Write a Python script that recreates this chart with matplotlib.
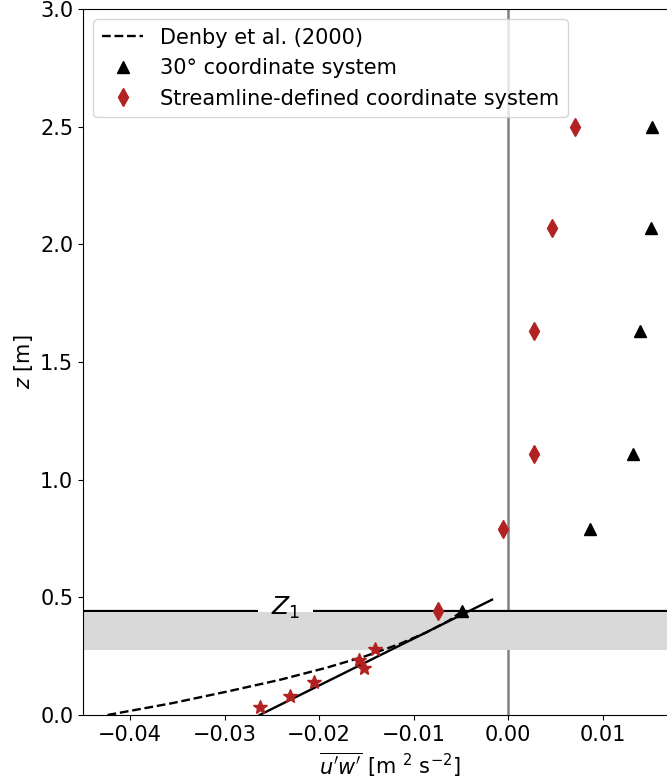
import matplotlib
matplotlib.use('Agg')
import matplotlib.pyplot as plt

# Data
z_levels = [0.44, 0.79, 1.11, 1.63, 2.07, 2.50]
uw_30deg = [-0.0049, 0.0087, 0.0132, 0.0140, 0.0151, 0.0152]
uw_streamline = [-0.0074, -0.0005, 0.0027, 0.0027, 0.0047, 0.0071]

z_stars = [0.035, 0.081, 0.140, 0.234, 0.198, 0.279]
uw_stars = [-0.0263, -0.0231, -0.0205, -0.0158, -0.0153, -0.0141]

z_denby = [0.0, 0.05, 0.10, 0.15, 0.20, 0.25, 0.30, 0.35, 0.40, 0.44]
uw_denby = [-0.0424, -0.0356, -0.0297, -0.0241, -0.0193, -0.0151, -0.0116, -0.0087, -0.0063, -0.0049]

z_fit = [0.0, 0.49]
uw_fit = [-0.0263, -0.0017]

z1 = 0.44
band = (0.275, 0.437)
z1_label_x = -0.0236
z1_gap = 0.0029  # half-width of the gap in the Z1 line around its label

fig = plt.figure(figsize=(6.67, 7.78), dpi=100)
ax = fig.add_axes([83 / 667, 63 / 778, 614 / 667, 706 / 778])

ax.axhspan(band[0], band[1], color='0.85', lw=0, zorder=1.5)
ax.axvline(0, color='0.5', lw=1.8, zorder=1)
ax.axhline(z1, color='k', lw=1.6, zorder=1)
ax.hlines(z1, z1_label_x - z1_gap, z1_label_x + z1_gap, color='white', lw=3, zorder=1.2)
ax.text(z1_label_x, z1 + 0.015, '$Z_1$', fontsize=18, ha='center', va='center', zorder=5)

ax.plot(uw_denby, z_denby, 'k--', lw=1.7, label='Denby et al. (2000)', zorder=3)
ax.plot(uw_fit, z_fit, 'k-', lw=1.7, zorder=3)
ax.plot(uw_30deg, z_levels, '^', color='k', ms=9, ls='none',
        label='30° coordinate system', zorder=4)
ax.plot(uw_streamline, z_levels, 'd', color='firebrick', ms=9, ls='none',
        label='Streamline-defined coordinate system', zorder=4)
ax.plot(uw_stars, z_stars, '*', color='firebrick', ms=10, ls='none', zorder=4)

ax.set_xlim(-0.045, 0.02)
ax.set_ylim(0, 3.0)
ax.set_xticks([-0.04, -0.03, -0.02, -0.01, 0.0, 0.01])
ax.set_yticks([0.0, 0.5, 1.0, 1.5, 2.0, 2.5, 3.0])
ax.tick_params(labelsize=15)
ax.set_xlabel(r"$\overline{u'w'}$ [m $^2$ s$^{-2}$]", fontsize=15)
ax.set_ylabel('$z$ [m]', fontsize=15)
ax.legend(loc='upper left', fontsize=15)

fig.savefig('out.png', dpi=100)
